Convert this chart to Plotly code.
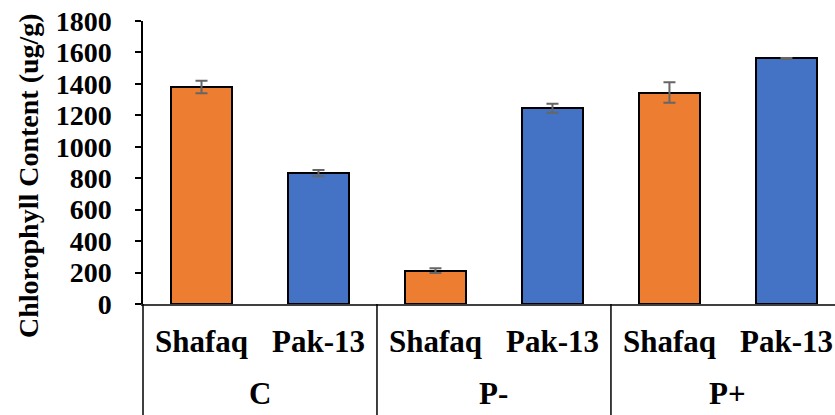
import plotly.graph_objects as go

groups = ["C", "P-", "P+"]
varieties = ["Shafaq", "Pak-13"]
shafaq_vals = [1380, 212, 1345]
shafaq_err = [40, 15, 65]
pak_vals = [832, 1245, 1562]
pak_err = [20, 28, 3]
y_ticks = [0, 200, 400, 600, 800, 1000, 1200, 1400, 1600, 1800]

FONT = "Liberation Serif"
n_var = len(varieties)
pos_shafaq = [g * n_var + 0 for g in range(len(groups))]
pos_pak = [g * n_var + 1 for g in range(len(groups))]

fig = go.Figure()
fig.add_trace(go.Bar(
    x=pos_shafaq, y=shafaq_vals, width=0.52, name="Shafaq",
    marker=dict(color="#ED7D31", line=dict(color="black", width=2)),
    error_y=dict(type="data", array=shafaq_err, color="#666666", thickness=2, width=6),
))
fig.add_trace(go.Bar(
    x=pos_pak, y=pak_vals, width=0.52, name="Pak-13",
    marker=dict(color="#4472C4", line=dict(color="black", width=2)),
    error_y=dict(type="data", array=pak_err, color="#666666", thickness=2, width=6),
))

plot_h = 415 - 21 - 111

annotations = []
for g, grp in enumerate(groups):
    for v, var in enumerate(varieties):
        annotations.append(dict(
            x=g * n_var + v, y=-37 / plot_h, xref="x", yref="paper",
            text=var, showarrow=False, xanchor="center", yanchor="middle",
            font=dict(family=FONT, size=31, color="black", weight="bold"),
        ))
    annotations.append(dict(
        x=g * n_var + (n_var - 1) / 2, y=-89 / plot_h, xref="x", yref="paper",
        text=grp, showarrow=False, xanchor="center", yanchor="middle",
        font=dict(family=FONT, size=31, color="black", weight="bold"),
    ))

annotations.append(dict(
    x=-115 / 692, y=(304 - 176) / plot_h, xref="paper", yref="paper",
    text="Chlorophyll Content (ug/g)", textangle=-90, showarrow=False,
    xanchor="center", yanchor="middle",
    font=dict(family=FONT, size=28, color="black", weight="bold"),
))

shapes = []
shapes.append(dict(type="line", xref="paper", yref="paper", x0=0, x1=0,
                   y0=0, y1=-112 / plot_h, line=dict(color="black", width=1.5)))
for g in range(1, len(groups)):
    xs = g * n_var - 0.5
    shapes.append(dict(type="line", xref="x", yref="paper", x0=xs, x1=xs,
                       y0=0, y1=-112 / plot_h, line=dict(color="black", width=1.5)))

fig.update_layout(
    width=835, height=415,
    margin=dict(l=143, r=0, t=21, b=111),
    plot_bgcolor="white", paper_bgcolor="white",
    showlegend=False,
    bargap=0,
    annotations=annotations,
    shapes=shapes,
    xaxis=dict(
        range=[-0.5, 5.415], showline=True, linecolor="#404040", linewidth=1.5,
        showticklabels=False, ticks="", showgrid=False, zeroline=False,
        tickvals=pos_shafaq + pos_pak,
    ),
    yaxis=dict(
        range=[0, 1800], tickvals=y_ticks, showline=True, linecolor="black",
        linewidth=1.5, ticks="outside", ticklen=6, tickwidth=1.5, tickcolor="black",
        showgrid=False, zeroline=False, ticklabelstandoff=18,
        tickfont=dict(family=FONT, size=28, color="black", weight="bold"),
    ),
)

fig.write_html("out.html")
